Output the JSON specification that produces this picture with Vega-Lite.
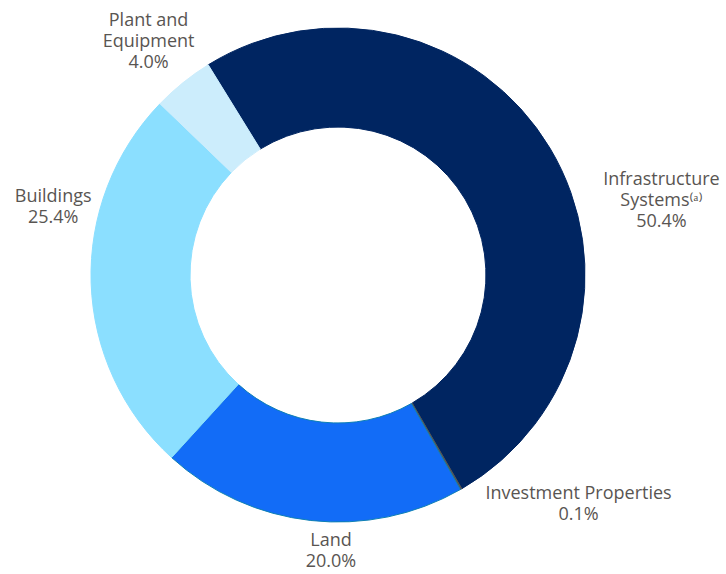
{
  "$schema": "https://vega.github.io/schema/vega-lite/v6.json",
  "autosize": "none",
  "width": 676,
  "height": 550,
  "padding": {"left": 0, "top": 0, "right": 50, "bottom": 24},
  "background": "white",
  "config": {"view": {"stroke": null}, "text": {"font": "Open Sans", "fontSize": 18, "color": "#595552", "lineBreak": "\n", "lineHeight": 21}},
  "data": {"values": [
    {"category": "Infrastructure Systems", "label": "Infrastructure\nSystems⁽ᵃ⁾\n50.4%", "value": 50.4, "order": 1},
    {"category": "Investment Properties", "label": "Investment Properties\n0.1%", "value": 0.1, "order": 2},
    {"category": "Land", "label": "Land\n20.0%", "value": 20.0, "order": 3},
    {"category": "Buildings", "label": "Buildings\n25.4%", "value": 25.4, "order": 4},
    {"category": "Plant and Equipment", "label": "Plant and\nEquipment\n4.0%", "value": 4.0, "order": 5}
  ]},
  "encoding": {
    "theta": {"field": "value", "type": "quantitative", "stack": true, "scale": {"range": [-0.5533, 5.7299]}},
    "order": {"field": "order", "type": "quantitative"}
  },
  "layer": [
    {
      "mark": {"type": "arc", "outerRadius": 247, "innerRadius": 148},
      "encoding": {
        "color": {"field": "category", "type": "nominal", "legend": null,
          "scale": {"domain": ["Infrastructure Systems", "Investment Properties", "Land", "Buildings", "Plant and Equipment"],
                    "range": ["#002561", "#555555", "#126CF7", "#8BDFFF", "#CCEDFC"]}},
        "stroke": {"field": "category", "type": "nominal", "legend": null,
          "scale": {"domain": ["Infrastructure Systems", "Investment Properties", "Land", "Buildings", "Plant and Equipment"],
                    "range": ["#002561", "#555555", "#0E80B4", "#8BDFFF", "#CCEDFC"]}},
        "strokeWidth": {"value": 1}
      }
    },
    {
      "mark": {"type": "text", "radius": 300, "dx": 66, "dy": 59},
      "encoding": {"text": {"condition": {"test": "datum.category === 'Infrastructure Systems'", "field": "label"}, "value": ""}}
    },
    {
      "mark": {"type": "text", "radius": 300, "dx": 91, "dy": -41},
      "encoding": {"text": {"condition": {"test": "datum.category === 'Investment Properties'", "field": "label"}, "value": ""}}
    },
    {
      "mark": {"type": "text", "radius": 300, "dx": 26, "dy": -32},
      "encoding": {"text": {"condition": {"test": "datum.category === 'Land'", "field": "label"}, "value": ""}}
    },
    {
      "mark": {"type": "text", "radius": 300, "dx": 15, "dy": -88},
      "encoding": {"text": {"condition": {"test": "datum.category === 'Buildings'", "field": "label"}, "value": ""}}
    },
    {
      "mark": {"type": "text", "radius": 300, "dx": -1, "dy": -21},
      "encoding": {"text": {"condition": {"test": "datum.category === 'Plant and Equipment'", "field": "label"}, "value": ""}}
    }
  ]
}
